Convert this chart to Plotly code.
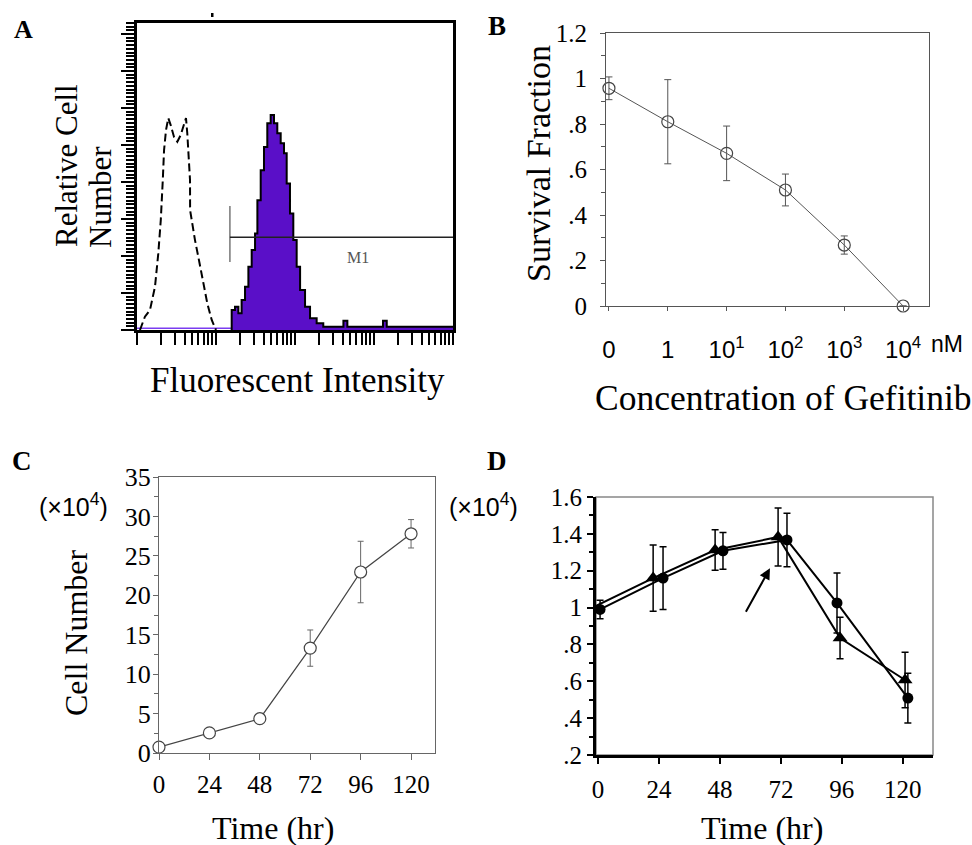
import plotly.graph_objects as go

W, H = 972, 845
SERIF = "Liberation Serif, Times New Roman, serif"
SANS = "Liberation Sans, Arial, sans-serif"

# ---------------- Panel A : flow cytometry histograms ----------------
ctrl_intensity = [1.09, 1.26, 1.46, 1.69, 1.86, 2.00, 2.12, 2.20, 2.33, 2.49, 2.67, 2.94,
                  3.24, 3.57, 3.86, 4.17, 4.33, 4.59, 4.69, 4.70, 4.92, 5.42, 5.97, 6.59,
                  7.05, 7.76, 8.83, 10.0]
ctrl_count = [0.0, 0.36, 0.54, 1.17, 2.07, 2.97, 4.05, 4.86, 5.41, 5.73, 5.54, 5.22,
              5.09, 5.27, 5.50, 5.73, 5.32, 4.59, 4.05, 3.24, 2.97, 2.43, 1.98, 1.53,
              1.17, 0.72, 0.27, 0.0]

stain_intensity = [15.8, 15.8, 17.4, 19.2, 21.1, 23.3, 25.7, 28.3, 31.2, 33.4, 36.8, 40.5,
                   44.6, 49.2, 54.2, 59.7, 65.9, 72.6, 78.5, 86.4, 95.2, 105, 116, 134,
                   155, 188, 228, 371, 410, 460, 1300, 1450, 10000]
stain_count = [0.0, 0.54, 0.63, 0.45, 0.81, 1.17, 1.71, 2.16, 2.61, 3.51, 4.32, 4.95,
               5.59, 5.81, 5.59, 5.32, 5.05, 4.78, 3.96, 3.15, 2.43, 1.71, 1.08, 0.63,
               0.32, 0.18, 0.09, 0.09, 0.25, 0.09, 0.25, 0.09, 0.09]
stain_baseline_intensity = [1.0, 15.8]
stain_baseline_count = [0.05, 0.05]

gate_low, gate_high = 15.0, 10000
gate_level = 2.51
gate_bar = [1.84, 3.35]

# ---------------- Panel B : survival vs gefitinib ----------------
conc_labels = ["0", "1", "10<sup>1</sup>", "10<sup>2</sup>", "10<sup>3</sup>", "10<sup>4</sup>"]
survival = [0.957, 0.81, 0.671, 0.51, 0.268, 0.0]
survival_err = [0.05, 0.185, 0.12, 0.07, 0.04, 0.0]

# ---------------- Panel C : growth curve ----------------
time_c = [0, 24, 48, 72, 96, 120]
cells_c = [0.75, 2.55, 4.35, 13.3, 22.95, 27.8]
cells_c_err = [0.3, 0.3, 0.3, 2.3, 3.9, 1.8]

# ---------------- Panel D : two series ----------------
tri_time = [-2.2, 21.7, 46.1, 70.9, 95.3, 120.9]
tri_val = [1.00, 1.16, 1.312, 1.383, 0.835, 0.607]
tri_err = [0.05, 0.18, 0.11, 0.157, 0.113, 0.15]
circ_time = [0.8, 25.6, 49.2, 74.4, 94.1, 122.0]
circ_val = [0.99, 1.16, 1.308, 1.367, 1.025, 0.509]
circ_err = [0.05, 0.17, 0.10, 0.145, 0.163, 0.135]

tick_c = [0, 24, 48, 72, 96, 120]


def px_x(p):
    return p / W


def px_y(p):
    return 1 - p / H


fig = go.Figure()

# ---- A traces
fig.add_trace(go.Scatter(x=stain_baseline_intensity, y=stain_baseline_count, mode="lines",
                         line=dict(color="#7a3cf0", width=1.5), xaxis="x", yaxis="y",
                         hoverinfo="skip"))
fig.add_trace(go.Scatter(x=stain_intensity, y=stain_count, mode="lines", line_shape="hv",
                         fill="tozeroy", fillcolor="#5a0fc8",
                         line=dict(color="black", width=2), xaxis="x", yaxis="y"))
fig.add_trace(go.Scatter(x=ctrl_intensity, y=ctrl_count, mode="lines",
                         line=dict(color="black", width=2, dash="8px,4px"),
                         xaxis="x", yaxis="y"))
fig.add_trace(go.Scatter(x=[gate_low, gate_low], y=gate_bar, mode="lines",
                         line=dict(color="#777", width=1.5), xaxis="x", yaxis="y"))
fig.add_trace(go.Scatter(x=[gate_low, gate_high], y=[gate_level, gate_level], mode="lines",
                         line=dict(color="#222", width=1.5), xaxis="x", yaxis="y"))

# ---- B traces
fig.add_trace(go.Scatter(x=list(range(len(conc_labels))), y=survival, mode="lines+markers",
                         line=dict(color="#555", width=1),
                         marker=dict(symbol="circle-open", size=12, color="#444",
                                     line=dict(width=1.2)),
                         error_y=dict(type="data", array=survival_err, color="#555",
                                      thickness=1, width=3.5),
                         cliponaxis=False, xaxis="x2", yaxis="y2"))

# ---- C traces
fig.add_trace(go.Scatter(x=time_c, y=cells_c, mode="lines+markers",
                         line=dict(color="#444", width=1.2),
                         marker=dict(symbol="circle", size=12, color="white",
                                     line=dict(color="#444", width=1.2)),
                         error_y=dict(type="data", array=cells_c_err, color="#666",
                                      thickness=1, width=3),
                         cliponaxis=False, xaxis="x3", yaxis="y3"))

# ---- D traces
fig.add_trace(go.Scatter(x=tri_time, y=tri_val, mode="lines+markers",
                         line=dict(color="black", width=2),
                         marker=dict(symbol="triangle-up", size=13, color="black"),
                         error_y=dict(type="data", array=tri_err, color="black",
                                      thickness=1.5, width=3.5),
                         cliponaxis=False, xaxis="x4", yaxis="y4"))
fig.add_trace(go.Scatter(x=circ_time, y=circ_val, mode="lines+markers",
                         line=dict(color="black", width=2),
                         marker=dict(symbol="circle", size=11, color="black"),
                         error_y=dict(type="data", array=circ_err, color="black",
                                      thickness=1.5, width=3.5),
                         cliponaxis=False, xaxis="x4", yaxis="y4"))

common = dict(showgrid=False, zeroline=False, automargin=False)

layout = dict(
    width=W, height=H, margin=dict(l=0, r=0, t=0, b=0, autoexpand=False),
    paper_bgcolor="white", plot_bgcolor="white", showlegend=False,
    # A
    xaxis=dict(domain=[px_x(137), px_x(453)], type="log", range=[0, 4], anchor="y",
               showline=True, linecolor="black", linewidth=3, mirror=True,
               ticks="outside", ticklen=12, tickwidth=2, tickcolor="black", dtick="D1",
               showticklabels=False, **common),
    yaxis=dict(domain=[px_y(330), px_y(23)], range=[0, 8.3], anchor="x",
               showline=True, linecolor="black", linewidth=3, mirror=True,
               ticks="outside", ticklen=13, tickwidth=2, tickcolor="black", dtick=1,
               minor=dict(dtick=0.1, ticks="outside", ticklen=8, tickwidth=1.5,
                          tickcolor="black"),
               showticklabels=False, **common),
    # B
    xaxis2=dict(domain=[px_x(606), px_x(929)], range=[-0.05, 5.44], anchor="y2",
                showline=True, linecolor="#555", linewidth=1.2, mirror=True,
                tickvals=list(range(len(conc_labels))), ticktext=conc_labels,
                ticks="outside", ticklen=4, tickcolor="#555",
                tickfont=dict(family=SANS, size=24, color="black"),
                ticklabelstandoff=18, **common),
    yaxis2=dict(domain=[px_y(306), px_y(33)], range=[0, 1.2], anchor="x2",
                showline=True, linecolor="#555", linewidth=1.2, mirror=True,
                tickvals=[0, 0.2, 0.4, 0.6, 0.8, 1.0, 1.2],
                ticktext=["0", ".2", ".4", ".6", ".8", "1", "1.2"],
                ticks="outside", ticklen=5, tickcolor="#555",
                minor=dict(dtick=0.1, ticks="outside", ticklen=4, tickcolor="#555"),
                tickfont=dict(family=SERIF, size=25, color="black"),
                ticklabelstandoff=8, **common),
    # C
    xaxis3=dict(domain=[px_x(159), px_x(435)], range=[0, 131.4], anchor="y3",
                showline=True, linecolor="#666", linewidth=1.2, mirror=True,
                tickvals=tick_c, ticks="outside", ticklen=6, tickcolor="#666",
                tickfont=dict(family=SERIF, size=25, color="black"),
                ticklabelstandoff=3, **common),
    yaxis3=dict(domain=[px_y(753), px_y(477)], range=[0, 35], anchor="x3",
                showline=True, linecolor="#666", linewidth=1.2, mirror=True,
                dtick=5, ticks="outside", ticklen=5, tickcolor="#666",
                minor=dict(dtick=2.5, ticks="outside", ticklen=4, tickcolor="#666"),
                tickfont=dict(family=SERIF, size=26, color="black"),
                ticklabelstandoff=-3, **common),
    # D
    xaxis4=dict(domain=[px_x(596), px_x(933)], range=[-0.8, 131.9], anchor="y4",
                showline=True, linecolor="black", linewidth=3,
                tickvals=tick_c, ticks="outside", ticklen=6, tickwidth=2, tickcolor="black",
                tickfont=dict(family=SERIF, size=25, color="black"),
                ticklabelstandoff=4, **common),
    yaxis4=dict(domain=[px_y(755), px_y(497)], range=[0.2, 1.6], anchor="x4",
                showline=True, linecolor="black", linewidth=3,
                tickvals=[0.2, 0.4, 0.6, 0.8, 1.0, 1.2, 1.4, 1.6],
                ticktext=[".2", ".4", ".6", ".8", "1", "1.2", "1.4", "1.6"],
                ticks="outside", ticklen=6, tickwidth=2, tickcolor="black",
                minor=dict(dtick=0.1, ticks="outside", ticklen=4, tickwidth=1.5,
                           tickcolor="black"),
                tickfont=dict(family=SERIF, size=25, color="black"),
                ticklabelstandoff=0, **common),
)
fig.update_layout(**layout)

# grey top/right border of panel D
fig.add_shape(type="rect", xref="x4 domain", yref="y4 domain", x0=0, x1=1, y0=0, y1=1,
              line=dict(color="#888", width=1.5), layer="below")
# small mark above panel A
fig.add_shape(type="rect", xref="paper", yref="paper", x0=px_x(211), x1=px_x(213.5),
              y0=px_y(17), y1=px_y(13), fillcolor="black", line=dict(width=0))


def txt(text, x, y, size, family=SERIF, angle=0, bold=False, xanchor="center",
        color="black"):
    if bold:
        text = "<b>" + text + "</b>"
    fig.add_annotation(text=text, x=px_x(x), y=px_y(y), xref="paper", yref="paper",
                       showarrow=False, textangle=angle, xanchor=xanchor, yanchor="middle",
                       font=dict(family=family, size=size, color=color))


# panel letters
txt("A", 23, 30, 26, bold=True)
txt("B", 497, 26, 27, bold=True)
txt("C", 22, 461, 27, bold=True)
txt("D", 497, 461, 27, bold=True)

# panel A titles
txt("Relative Cell", 67, 166, 31, angle=-90)
txt("Number", 100, 197, 31, angle=-90)
txt("Fluorescent Intensity", 297, 380, 35)
txt("M1", 358, 257, 16, color="#555")

# panel B titles
txt("Survival Fraction", 538, 164, 34, angle=-90)
txt("Concentration of Gefitinib", 593, 398, 35.5, xanchor="left")
txt("nM", 929, 344, 23, family=SANS, xanchor="left")

# panel C titles
txt("(\u00d710<sup>4</sup>)", 73, 505, 25, family=SANS)
txt("Cell Number", 76, 633, 32, angle=-90)
txt("Time (hr)", 273, 828, 32)

# panel D titles
txt("(\u00d710<sup>4</sup>)", 483, 505, 25, family=SANS)
txt("Time (hr)", 762, 828, 32)

# arrow in panel D
fig.add_annotation(x=67.7, y=1.213, ax=57.9, ay=0.969, xref="x4", yref="y4",
                   axref="x4", ayref="y4", showarrow=True, arrowhead=2, arrowsize=1.1,
                   arrowwidth=2, arrowcolor="black", text="")

fig.write_html("out.html", config={"displayModeBar": False},
               post_script="document.body.style.margin='0';document.body.style.overflow='hidden';")
